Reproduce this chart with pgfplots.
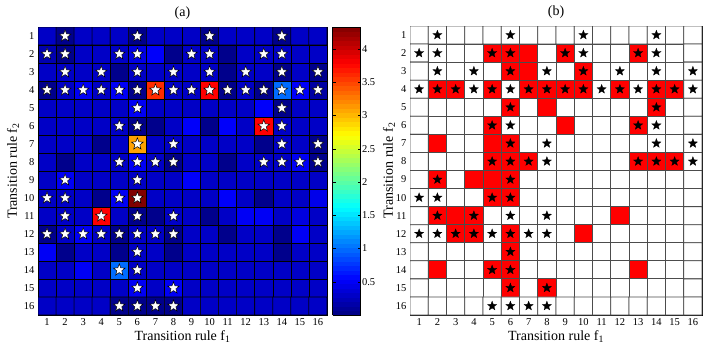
\documentclass[border=0pt]{standalone}
\usepackage{fontspec}
\setmainfont{Liberation Serif}
\usepackage{pgfplots}
\pgfplotsset{compat=1.18}

% filled five-point star mark
\pgfdeclareplotmark{fstar}{%
  \pgfpathmoveto{\pgfpointpolar{90}{\pgfplotmarksize}}%
  \pgfpathlineto{\pgfpointpolar{126}{0.42\pgfplotmarksize}}%
  \pgfpathlineto{\pgfpointpolar{162}{\pgfplotmarksize}}%
  \pgfpathlineto{\pgfpointpolar{198}{0.42\pgfplotmarksize}}%
  \pgfpathlineto{\pgfpointpolar{234}{\pgfplotmarksize}}%
  \pgfpathlineto{\pgfpointpolar{270}{0.42\pgfplotmarksize}}%
  \pgfpathlineto{\pgfpointpolar{306}{\pgfplotmarksize}}%
  \pgfpathlineto{\pgfpointpolar{342}{0.42\pgfplotmarksize}}%
  \pgfpathlineto{\pgfpointpolar{18}{\pgfplotmarksize}}%
  \pgfpathlineto{\pgfpointpolar{54}{0.42\pgfplotmarksize}}%
  \pgfpathclose
  \pgfusepathqfillstroke}

\pgfplotsset{
  /pgf/number format/assume math mode=true,
  grid12/.style={
    scale only axis,
    xmin=0.5, xmax=16.5, ymin=0.5, ymax=16.5, y dir=reverse,
    xtick={1,...,16}, ytick={1,...,16},
    tick style={draw=none},
    axis line style={line width=0.6pt},
    tick label style={font=\fontsize{10.5}{12}\selectfont},
    label style={font=\fontsize{14}{16}\selectfont},
    title style={font=\fontsize{14}{16}\selectfont, yshift=-2pt},
    xlabel={Transition rule f\textsubscript{1}},
    ylabel={Transition rule f\textsubscript{2}},
    xlabel style={yshift=2pt},
  },
}

\begin{document}
\begin{tikzpicture}
\useasboundingbox (0,0) rectangle (708pt,354pt);

% (a) heat map
\begin{axis}[grid12, at={(38pt,39pt)}, anchor=south west,
  width=289pt, height=288pt, title={(a)},
  colormap/jet, point meta min=0, point meta max=4.33,
  colorbar, colorbar sampled,
  colorbar style={at={(parent axis.north east)}, anchor=north west,
    xshift=-3pt, width=28pt, height=288pt, scale only axis, samples=65,
    ytick={0.5,1,...,4}, y dir=normal,
    tick style={draw=black}, major tick length=3pt,
    yticklabel style={font=\fontsize{10.5}{12}\selectfont, xshift=-2pt}},
  ylabel style={yshift=-2pt}]
\addplot[matrix plot*, mesh/cols=16, point meta=explicit, draw=black, line width=0.6pt] coordinates {
(1,1)[0.3] (2,1)[0.05] (3,1)[0.3] (4,1)[0.3] (5,1)[0.3] (6,1)[0.05] (7,1)[0.3] (8,1)[0.3] (9,1)[0.3] (10,1)[0.05] (11,1)[0.3] (12,1)[0.3] (13,1)[0.3] (14,1)[0.05] (15,1)[0.3] (16,1)[0.3]
(1,2)[0.2] (2,2)[0.05] (3,2)[0.3] (4,2)[0.3] (5,2)[0.3] (6,2)[0.42] (7,2)[0.52] (8,2)[0.05] (9,2)[0.3] (10,2)[0.3] (11,2)[0.05] (12,2)[0.3] (13,2)[0.3] (14,2)[0.3] (15,2)[0.3] (16,2)[0.3]
(1,3)[0.3] (2,3)[0.3] (3,3)[0.3] (4,3)[0.3] (5,3)[0.05] (6,3)[0.3] (7,3)[0.3] (8,3)[0.3] (9,3)[0.3] (10,3)[0.3] (11,3)[0.05] (12,3)[0.3] (13,3)[0.3] (14,3)[0.05] (15,3)[0.3] (16,3)[0.05]
(1,4)[0.05] (2,4)[0.3] (3,4)[0.5] (4,4)[0.3] (5,4)[0.5] (6,4)[0.05] (7,4)[3.6] (8,4)[0.3] (9,4)[0.3] (10,4)[3.79] (11,4)[0.05] (12,4)[0.3] (13,4)[0.05] (14,4)[1.0] (15,4)[0.52] (16,4)[0.15]
(1,5)[0.3] (2,5)[0.3] (3,5)[0.3] (4,5)[0.3] (5,5)[0.3] (6,5)[0.5] (7,5)[0.3] (8,5)[0.3] (9,5)[0.3] (10,5)[0.3] (11,5)[0.3] (12,5)[0.3] (13,5)[0.52] (14,5)[0.05] (15,5)[0.3] (16,5)[0.3]
(1,6)[0.3] (2,6)[0.3] (3,6)[0.3] (4,6)[0.3] (5,6)[0.3] (6,6)[0.05] (7,6)[0.05] (8,6)[0.3] (9,6)[0.52] (10,6)[0.05] (11,6)[0.52] (12,6)[0.3] (13,6)[3.79] (14,6)[0.3] (15,6)[0.3] (16,6)[0.3]
(1,7)[0.3] (2,7)[0.3] (3,7)[0.3] (4,7)[0.05] (5,7)[0.3] (6,7)[3.1] (7,7)[0.3] (8,7)[0.3] (9,7)[0.3] (10,7)[0.3] (11,7)[0.3] (12,7)[0.3] (13,7)[0.05] (14,7)[0.3] (15,7)[0.3] (16,7)[0.05]
(1,8)[0.3] (2,8)[0.05] (3,8)[0.3] (4,8)[0.3] (5,8)[0.3] (6,8)[0.5] (7,8)[0.3] (8,8)[0.05] (9,8)[0.3] (10,8)[0.3] (11,8)[0.05] (12,8)[0.3] (13,8)[0.3] (14,8)[0.3] (15,8)[0.5] (16,8)[0.05]
(1,9)[0.3] (2,9)[0.5] (3,9)[0.3] (4,9)[0.3] (5,9)[0.3] (6,9)[0.3] (7,9)[0.3] (8,9)[0.3] (9,9)[0.52] (10,9)[0.3] (11,9)[0.3] (12,9)[0.3] (13,9)[0.3] (14,9)[0.3] (15,9)[0.3] (16,9)[0.3]
(1,10)[0.3] (2,10)[0.3] (3,10)[0.3] (4,10)[0.05] (5,10)[0.5] (6,10)[4.33] (7,10)[0.3] (8,10)[0.3] (9,10)[0.3] (10,10)[0.3] (11,10)[0.52] (12,10)[0.3] (13,10)[0.05] (14,10)[0.3] (15,10)[0.3] (16,10)[0.45]
(1,11)[0.3] (2,11)[0.3] (3,11)[0.3] (4,11)[3.79] (5,11)[0.3] (6,11)[0.05] (7,11)[0.05] (8,11)[0.3] (9,11)[0.3] (10,11)[0.05] (11,11)[0.3] (12,11)[0.5] (13,11)[0.5] (14,11)[0.3] (15,11)[0.4] (16,11)[0.3]
(1,12)[0.05] (2,12)[0.3] (3,12)[0.5] (4,12)[0.3] (5,12)[0.05] (6,12)[0.3] (7,12)[0.3] (8,12)[0.05] (9,12)[0.3] (10,12)[0.3] (11,12)[0.05] (12,12)[0.3] (13,12)[0.3] (14,12)[0.05] (15,12)[0.5] (16,12)[0.3]
(1,13)[0.5] (2,13)[0.05] (3,13)[0.3] (4,13)[0.3] (5,13)[0.05] (6,13)[0.3] (7,13)[0.3] (8,13)[0.05] (9,13)[0.3] (10,13)[0.3] (11,13)[0.3] (12,13)[0.3] (13,13)[0.3] (14,13)[0.05] (15,13)[0.3] (16,13)[0.3]
(1,14)[0.3] (2,14)[0.3] (3,14)[0.5] (4,14)[0.3] (5,14)[1.0] (6,14)[0.3] (7,14)[0.3] (8,14)[0.3] (9,14)[0.3] (10,14)[0.3] (11,14)[0.3] (12,14)[0.3] (13,14)[0.3] (14,14)[0.3] (15,14)[0.3] (16,14)[0.3]
(1,15)[0.3] (2,15)[0.3] (3,15)[0.3] (4,15)[0.3] (5,15)[0.3] (6,15)[0.5] (7,15)[0.3] (8,15)[0.5] (9,15)[0.3] (10,15)[0.3] (11,15)[0.3] (12,15)[0.3] (13,15)[0.3] (14,15)[0.3] (15,15)[0.3] (16,15)[0.3]
(1,16)[0.3] (2,16)[0.3] (3,16)[0.3] (4,16)[0.3] (5,16)[0.05] (6,16)[0.05] (7,16)[0.05] (8,16)[0.05] (9,16)[0.3] (10,16)[0.3] (11,16)[0.3] (12,16)[0.3] (13,16)[0.3] (14,16)[0.3] (15,16)[0.3] (16,16)[0.3]
};
\addplot[only marks, mark=fstar, mark size=6.2pt, mark options={fill=white, draw=black, line width=0.5pt}] coordinates {
(2,1) (6,1) (10,1) (14,1)
(1,2) (2,2) (5,2) (6,2) (9,2) (10,2) (13,2) (14,2)
(2,3) (4,3) (6,3) (8,3) (10,3) (12,3) (14,3) (16,3)
(1,4) (2,4) (3,4) (4,4) (5,4) (6,4) (7,4) (8,4) (9,4) (10,4) (11,4) (12,4) (13,4) (14,4) (15,4) (16,4)
(6,5) (14,5)
(5,6) (6,6) (13,6) (14,6)
(6,7) (8,7) (14,7) (16,7)
(5,8) (6,8) (7,8) (8,8) (13,8) (14,8) (15,8) (16,8)
(2,9) (6,9)
(1,10) (2,10) (5,10) (6,10)
(2,11) (4,11) (6,11) (8,11)
(1,12) (2,12) (3,12) (4,12) (5,12) (6,12) (7,12) (8,12)
(6,13)
(5,14) (6,14)
(6,15) (8,15)
(5,16) (6,16) (7,16) (8,16)
};
\end{axis}

% (b) significance map
\begin{axis}[grid12, at={(410pt,39pt)}, anchor=south west,
  width=292pt, height=289pt, title={(b)},
  colormap={wr}{rgb255=(255,255,255) rgb255=(255,0,0)},
  point meta min=0, point meta max=1,
  ylabel style={yshift=-6pt}]
\addplot[matrix plot*, mesh/cols=16, point meta=explicit, draw=black!70, line width=0.8pt] coordinates {
(1,1)[0] (2,1)[0] (3,1)[0] (4,1)[0] (5,1)[0] (6,1)[0] (7,1)[0] (8,1)[0] (9,1)[0] (10,1)[0] (11,1)[0] (12,1)[0] (13,1)[0] (14,1)[0] (15,1)[0] (16,1)[0]
(1,2)[0] (2,2)[0] (3,2)[0] (4,2)[0] (5,2)[1] (6,2)[1] (7,2)[1] (8,2)[0] (9,2)[1] (10,2)[0] (11,2)[0] (12,2)[0] (13,2)[1] (14,2)[0] (15,2)[0] (16,2)[0]
(1,3)[0] (2,3)[0] (3,3)[0] (4,3)[0] (5,3)[0] (6,3)[1] (7,3)[1] (8,3)[0] (9,3)[0] (10,3)[1] (11,3)[0] (12,3)[0] (13,3)[0] (14,3)[0] (15,3)[0] (16,3)[0]
(1,4)[0] (2,4)[1] (3,4)[1] (4,4)[0] (5,4)[1] (6,4)[0] (7,4)[1] (8,4)[1] (9,4)[1] (10,4)[1] (11,4)[0] (12,4)[1] (13,4)[0] (14,4)[1] (15,4)[1] (16,4)[0]
(1,5)[0] (2,5)[0] (3,5)[0] (4,5)[0] (5,5)[0] (6,5)[1] (7,5)[0] (8,5)[1] (9,5)[0] (10,5)[0] (11,5)[0] (12,5)[0] (13,5)[0] (14,5)[1] (15,5)[0] (16,5)[0]
(1,6)[0] (2,6)[0] (3,6)[0] (4,6)[0] (5,6)[1] (6,6)[0] (7,6)[0] (8,6)[0] (9,6)[1] (10,6)[0] (11,6)[0] (12,6)[0] (13,6)[1] (14,6)[0] (15,6)[0] (16,6)[0]
(1,7)[0] (2,7)[1] (3,7)[0] (4,7)[0] (5,7)[1] (6,7)[1] (7,7)[0] (8,7)[0] (9,7)[0] (10,7)[0] (11,7)[0] (12,7)[0] (13,7)[0] (14,7)[0] (15,7)[0] (16,7)[0]
(1,8)[0] (2,8)[0] (3,8)[0] (4,8)[0] (5,8)[1] (6,8)[1] (7,8)[1] (8,8)[0] (9,8)[0] (10,8)[0] (11,8)[0] (12,8)[0] (13,8)[1] (14,8)[1] (15,8)[1] (16,8)[0]
(1,9)[0] (2,9)[1] (3,9)[0] (4,9)[1] (5,9)[1] (6,9)[1] (7,9)[0] (8,9)[0] (9,9)[0] (10,9)[0] (11,9)[0] (12,9)[0] (13,9)[0] (14,9)[0] (15,9)[0] (16,9)[0]
(1,10)[0] (2,10)[0] (3,10)[0] (4,10)[0] (5,10)[1] (6,10)[1] (7,10)[0] (8,10)[0] (9,10)[0] (10,10)[0] (11,10)[0] (12,10)[0] (13,10)[0] (14,10)[0] (15,10)[0] (16,10)[0]
(1,11)[0] (2,11)[1] (3,11)[1] (4,11)[1] (5,11)[0] (6,11)[0] (7,11)[0] (8,11)[0] (9,11)[0] (10,11)[0] (11,11)[0] (12,11)[1] (13,11)[0] (14,11)[0] (15,11)[0] (16,11)[0]
(1,12)[0] (2,12)[0] (3,12)[1] (4,12)[1] (5,12)[0] (6,12)[1] (7,12)[0] (8,12)[0] (9,12)[0] (10,12)[1] (11,12)[0] (12,12)[0] (13,12)[0] (14,12)[0] (15,12)[0] (16,12)[0]
(1,13)[0] (2,13)[0] (3,13)[0] (4,13)[0] (5,13)[0] (6,13)[1] (7,13)[0] (8,13)[0] (9,13)[0] (10,13)[0] (11,13)[0] (12,13)[0] (13,13)[0] (14,13)[0] (15,13)[0] (16,13)[0]
(1,14)[0] (2,14)[1] (3,14)[0] (4,14)[0] (5,14)[1] (6,14)[1] (7,14)[0] (8,14)[0] (9,14)[0] (10,14)[0] (11,14)[0] (12,14)[0] (13,14)[1] (14,14)[0] (15,14)[0] (16,14)[0]
(1,15)[0] (2,15)[0] (3,15)[0] (4,15)[0] (5,15)[0] (6,15)[1] (7,15)[0] (8,15)[1] (9,15)[0] (10,15)[0] (11,15)[0] (12,15)[0] (13,15)[0] (14,15)[0] (15,15)[0] (16,15)[0]
(1,16)[0] (2,16)[0] (3,16)[0] (4,16)[0] (5,16)[0] (6,16)[0] (7,16)[0] (8,16)[0] (9,16)[0] (10,16)[0] (11,16)[0] (12,16)[0] (13,16)[0] (14,16)[0] (15,16)[0] (16,16)[0]
};
\addplot[only marks, mark=fstar, mark size=4.8pt, mark options={fill=black, draw=black, line width=0.3pt}] coordinates {
(2,1) (6,1) (10,1) (14,1)
(1,2) (2,2) (5,2) (6,2) (9,2) (10,2) (13,2) (14,2)
(2,3) (4,3) (6,3) (8,3) (10,3) (12,3) (14,3) (16,3)
(1,4) (2,4) (3,4) (4,4) (5,4) (6,4) (7,4) (8,4) (9,4) (10,4) (11,4) (12,4) (13,4) (14,4) (15,4) (16,4)
(6,5) (14,5)
(5,6) (6,6) (13,6) (14,6)
(6,7) (8,7) (14,7) (16,7)
(5,8) (6,8) (7,8) (8,8) (13,8) (14,8) (15,8) (16,8)
(2,9) (6,9)
(1,10) (2,10) (5,10) (6,10)
(2,11) (4,11) (6,11) (8,11)
(1,12) (2,12) (3,12) (4,12) (5,12) (6,12) (7,12) (8,12)
(6,13)
(5,14) (6,14)
(6,15) (8,15)
(5,16) (6,16) (7,16) (8,16)
};
\end{axis}
\end{tikzpicture}
\end{document}
